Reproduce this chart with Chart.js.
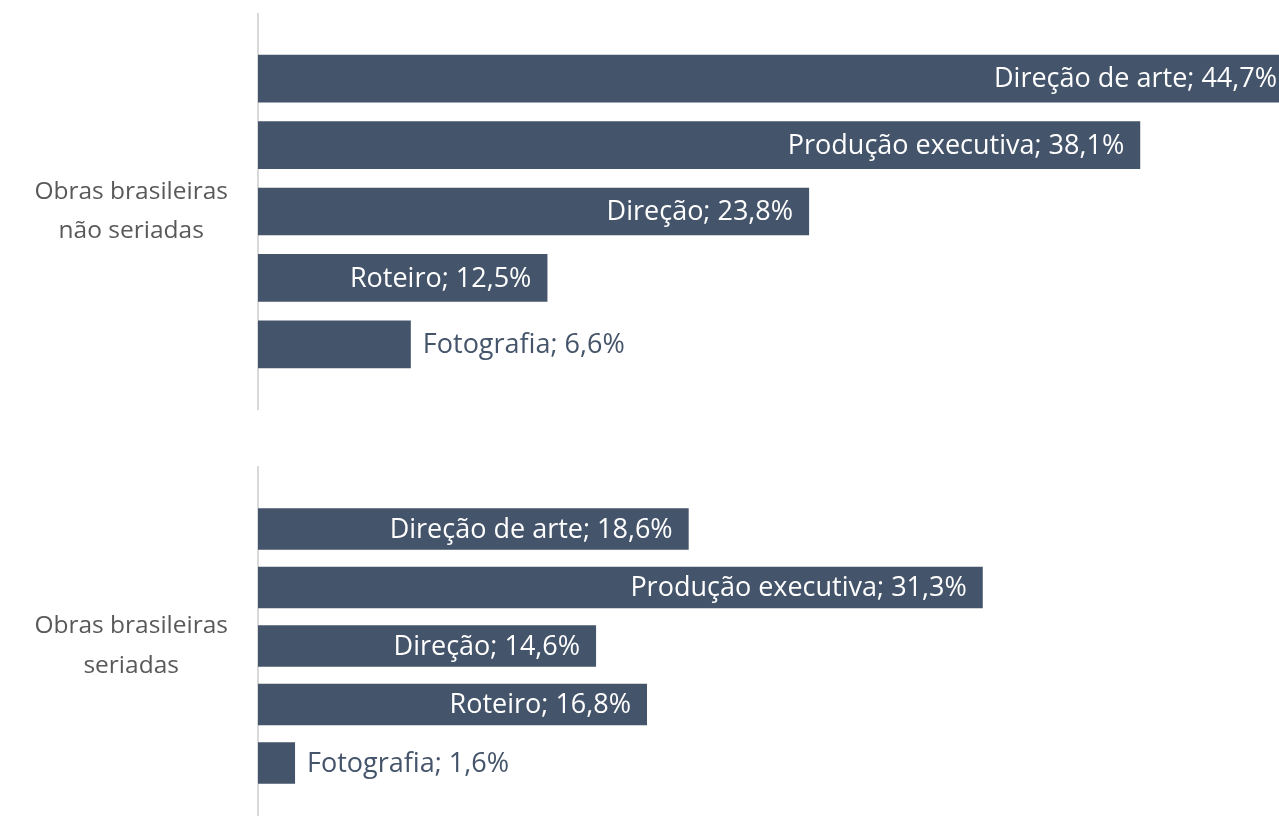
<!DOCTYPE html>
<html>
<head>
<meta charset="utf-8">
<script src="https://cdn.jsdelivr.net/npm/chart.js@4/dist/chart.umd.min.js"></script>
<style>
  html, body { margin: 0; padding: 0; background: #ffffff; overflow: hidden; width: 1279px; height: 816px; }
  .wrap { position: absolute; left: 0; }
  #topWrap { top: 0; }
  #bottomWrap { top: 420px; }
</style>
</head>
<body>
<div class="wrap" id="topWrap"><canvas id="chartTop" width="1300" height="420"></canvas></div>
<div class="wrap" id="bottomWrap"><canvas id="chartBottom" width="1300" height="420"></canvas></div>
<script>
// Functions (series) shown in each group, top to bottom
const roles = ['Direção de arte', 'Produção executiva', 'Direção', 'Roteiro', 'Fotografia'];

// Group labels on the category axis
const groupTop = ['Obras brasileiras', 'não seriadas'];
const groupBottom = ['Obras brasileiras', 'seriadas'];

// Shares (%) per function
const naoSeriadas = [44.7, 38.1, 23.8, 12.5, 6.6];
const seriadas = [18.6, 31.3, 14.6, 16.8, 1.6];

const BAR = '#44546a';
const FONT = "'Open Sans', 'Noto Sans', sans-serif";
const DATA_SIZE = 27;
const GROUP_SIZE = 24.5;

function fmt(v) {
  return v.toFixed(1).replace('.', ',') + '%';
}

// Draws "Series; value" at the inner end of each bar, or just past it when it doesn't fit
const barLabels = {
  id: 'barLabels',
  afterDatasetsDraw(chart) {
    const ctx = chart.ctx;
    ctx.save();
    ctx.font = DATA_SIZE + 'px ' + FONT;
    ctx.textBaseline = 'middle';
    chart.data.datasets.forEach((ds, di) => {
      const meta = chart.getDatasetMeta(di);
      meta.data.forEach((bar, i) => {
        const text = ds.label + '; ' + fmt(ds.data[i]);
        const w = ctx.measureText(text).width;
        const len = bar.x - bar.base;
        if (w + 28 <= len) {
          ctx.fillStyle = '#ffffff';
          ctx.textAlign = 'right';
          ctx.fillText(text, bar.x - 16, bar.y + 1);
        } else {
          ctx.fillStyle = BAR;
          ctx.textAlign = 'left';
          ctx.fillText(text, bar.x + 12, bar.y + 1);
        }
      });
    });
    ctx.restore();
  }
};

function makeChart(id, group, values, pad, catPct, barPct) {
  return new Chart(document.getElementById(id), {
    type: 'bar',
    data: {
      labels: [group],
      datasets: roles.map((r, i) => ({
        label: r,
        data: [values[i]],
        backgroundColor: BAR,
        borderWidth: 0,
        categoryPercentage: catPct,
        barPercentage: barPct
      }))
    },
    options: {
      indexAxis: 'y',
      responsive: false,
      animation: false,
      layout: { padding: { top: pad.top, bottom: pad.bottom, left: 0, right: 0 } },
      plugins: { legend: { display: false }, tooltip: { enabled: false } },
      scales: {
        x: { display: false, min: 0, max: 45 },
        y: {
          offset: true,
          grid: { display: false, drawTicks: false },
          border: { display: true, color: '#d9d9d9', width: 2 },
          ticks: {
            crossAlign: 'center',
            padding: 30,
            color: '#595959',
            font: { family: FONT, size: GROUP_SIZE, lineHeight: 1.63 }
          },
          afterFit(scale) {
            scale.width = 258;
            scale.paddingTop = 0;
            scale.paddingBottom = 0;
          }
        }
      }
    },
    plugins: [barLabels]
  });
}

makeChart('chartTop', groupTop, naoSeriadas, { top: 14, bottom: 11 }, 0.841, 0.718);
makeChart('chartBottom', groupBottom, seriadas, { top: 47, bottom: 15 }, 0.817, 0.713);
</script>
</body>
</html>
